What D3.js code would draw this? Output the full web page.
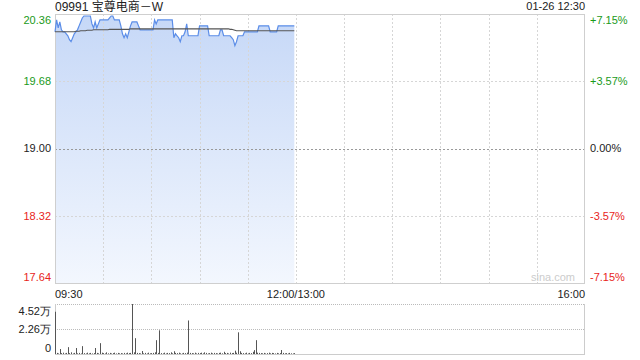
<!DOCTYPE html>
<html><head><meta charset="utf-8">
<script src="https://cdn.jsdelivr.net/npm/d3@7"></script>
<style>body{margin:0;background:#fff;}svg{display:block;font-family:"Liberation Sans",Arial,sans-serif;}</style>
</head><body><svg id="c" width="640" height="360"></svg>
<script>
const title = "09991 宝尊电商－W";
const stamp = "01-26 12:30";
const prevClose = 19.00;
const priceTicks = [20.36, 19.68, 19.00, 18.32, 17.64];
const pctTicks = ["+7.15%", "+3.57%", "0.00%", "-3.57%", "-7.15%"];
const timeLabels = ["09:30", "12:00/13:00", "16:00"];
const volTicks = [4.52, 2.26, 0];
const volTickLabels = ["4.52万", "2.26万", "0"];
// minute-by-minute price (09:30 - 11:59)
const price = [
20.18,20.30,20.22,20.28,20.20,20.18,20.18,20.16,20.14,20.10,
20.08,20.12,20.16,20.18,20.20,20.24,20.28,20.32,20.34,20.34,
20.34,20.34,20.34,20.26,20.22,20.28,20.22,20.26,20.30,20.30,
20.30,20.30,20.30,20.30,20.32,20.34,20.34,20.30,20.30,20.30,
20.30,20.24,20.16,20.12,20.16,20.12,20.18,20.24,20.28,20.28,
20.28,20.28,20.24,20.20,20.20,20.20,20.20,20.20,20.20,20.20,
20.20,20.20,20.30,20.26,20.30,20.30,20.30,20.30,20.30,20.30,
20.30,20.30,20.30,20.30,20.12,20.16,20.14,20.12,20.08,20.14,
20.14,20.18,20.26,20.14,20.14,20.14,20.14,20.14,20.14,20.14,
20.24,20.24,20.24,20.24,20.24,20.24,20.14,20.14,20.14,20.14,
20.14,20.14,20.14,20.20,20.20,20.14,20.14,20.14,20.14,20.14,
20.12,20.10,20.04,20.08,20.14,20.14,20.14,20.14,20.18,20.18,
20.18,20.18,20.18,20.18,20.18,20.18,20.18,20.24,20.24,20.24,
20.24,20.24,20.24,20.24,20.18,20.18,20.18,20.18,20.18,20.24,
20.24,20.24,20.24,20.24,20.24,20.24,20.24,20.24,20.24,20.24];
const avg = [
20.18,20.18,20.18,20.18,20.18,20.18,20.18,20.18,20.18,20.18,
20.18,20.18,20.18,20.185,20.185,20.185,20.19,20.19,20.19,20.19,
20.195,20.195,20.195,20.195,20.2,20.2,20.2,20.2,20.2,20.2,
20.2,20.2,20.2,20.2,20.205,20.205,20.205,20.205,20.205,20.205,
20.205,20.205,20.205,20.205,20.205,20.205,20.205,20.21,20.21,20.21,
20.21,20.21,20.21,20.21,20.21,20.21,20.21,20.21,20.21,20.21,
20.21,20.21,20.21,20.21,20.21,20.21,20.21,20.21,20.21,20.21,
20.21,20.21,20.21,20.21,20.21,20.21,20.21,20.21,20.21,20.21,
20.21,20.21,20.21,20.21,20.21,20.21,20.21,20.21,20.21,20.21,
20.21,20.21,20.21,20.21,20.21,20.21,20.21,20.21,20.21,20.21,
20.21,20.21,20.21,20.21,20.21,20.21,20.21,20.21,20.21,20.205,
20.205,20.2,20.195,20.19,20.19,20.19,20.19,20.19,20.19,20.19,
20.19,20.19,20.19,20.19,20.19,20.19,20.19,20.19,20.19,20.19,
20.19,20.19,20.19,20.19,20.19,20.19,20.19,20.19,20.19,20.19,
20.19,20.19,20.19,20.19,20.19,20.19,20.19,20.19,20.19,20.19];
// minute volume, in 万 shares
const volume = [
3.82,0.10,0.05,0.45,0.08,0.12,0.05,0.10,0.62,0.08,
0.15,0.05,0.10,0.54,0.06,0.10,0.05,0.71,0.08,0.05,
0.12,0.06,0.10,0.05,0.08,0.54,0.10,0.06,0.98,0.12,
0.08,0.05,0.15,0.06,0.10,0.05,0.08,0.12,0.05,0.10,
0.06,0.08,0.05,0.10,0.06,0.12,0.08,0.10,4.52,0.15,
1.43,0.10,0.08,0.05,0.27,0.06,0.10,0.05,0.12,0.06,
0.08,0.10,0.15,1.25,0.10,2.14,0.08,0.06,0.12,0.05,
0.10,0.08,0.15,0.06,0.25,0.10,0.08,0.12,0.06,0.05,
0.10,0.08,0.12,3.03,0.10,0.08,0.06,0.12,0.05,0.10,
0.08,0.12,0.06,0.15,0.10,0.05,0.08,0.12,0.06,0.10,
0.08,0.05,0.10,0.12,0.06,0.20,0.08,0.10,0.05,0.12,
0.08,0.10,0.30,0.12,1.96,0.25,0.10,0.08,0.06,0.12,
0.05,0.10,0.08,0.20,0.35,1.25,0.12,0.10,0.08,0.06,
0.10,0.05,0.08,0.12,0.06,0.10,0.08,0.05,0.10,0.06,
0.08,0.36,0.10,0.06,0.08,0.05,0.10,0.06,0.05,0.08];

const svg = d3.select("#c");
const L = 55, R = 585, T = 14, B = 283;
const VT = 304, VB = 354;
const x = d3.scaleLinear().domain([0, 330]).range([L, R]);
const y = d3.scaleLinear().domain([priceTicks[4], priceTicks[0]]).range([B, T]);
const yv = d3.scaleLinear().domain([0, volTicks[0]]).range([VB, VT]);
const green = "#1a9a1a", red = "#e8251b";
const colOf = i => i < 2 ? green : (i === 2 ? "#222" : red);

const defs = svg.append("defs");
const g = defs.append("linearGradient").attr("id","fillg").attr("x1",0).attr("y1",0).attr("x2",0).attr("y2",1);
g.append("stop").attr("offset","0%").attr("stop-color","#c6d8f7");
g.append("stop").attr("offset","100%").attr("stop-color","#f3f7fe");

// area
const area = d3.area().x((d,i)=>x(i)).y0(B).y1(d=>y(d));
svg.append("path").datum(price).attr("d", area).attr("fill","url(#fillg)");

// grid
const vgrid = d3.range(1, 11);
svg.append("g").selectAll("line").data(vgrid).join("line")
  .attr("x1", d=>Math.round(x(d*30))+0.5).attr("x2", d=>Math.round(x(d*30))+0.5)
  .attr("y1", T).attr("y2", B)
  .attr("stroke","#d6d6d6").attr("stroke-dasharray","2,2");
svg.append("g").selectAll("line").data(priceTicks.slice(1,4)).join("line")
  .attr("x1", L).attr("x2", R)
  .attr("y1", d=>Math.round(y(d))+0.5).attr("y2", d=>Math.round(y(d))+0.5)
  .attr("stroke", d=> d===prevClose ? "#999" : "#d6d6d6").attr("stroke-dasharray","2,2");
svg.append("rect").attr("x", L+0.5).attr("y", T+0.5).attr("width", R-L-1).attr("height", B-T)
  .attr("fill","none").attr("stroke","#cfcfcf");

const line = d3.line().x((d,i)=>x(i)).y(d=>y(d));
svg.append("path").datum(price).attr("d", line).attr("fill","none").attr("stroke","#5b8de8").attr("stroke-width",1.2);
svg.append("path").datum(avg).attr("d", line).attr("fill","none").attr("stroke","#555").attr("stroke-width",1.1);

// labels
const fs = 11;
const lab = svg.append("g").attr("font-size", fs);
const yLabPos = (v,i)=> i===0 ? y(v)+6 : (i===4 ? y(v)-6 : y(v));
lab.selectAll("text.l").data(priceTicks).join("text").attr("class","l")
  .attr("x", L-4).attr("y", (d,i)=>yLabPos(d,i)).attr("dy","0.35em").attr("text-anchor","end")
  .attr("fill",(d,i)=>colOf(i)).text(d=>d.toFixed(2));
lab.selectAll("text.r").data(pctTicks).join("text").attr("class","r")
  .attr("x", R+5).attr("y", (d,i)=>yLabPos(priceTicks[i],i)).attr("dy","0.35em").attr("text-anchor","start")
  .attr("fill",(d,i)=>colOf(i)).text(d=>d);
svg.append("text").attr("x", L).attr("y", 11).attr("font-size",12).attr("fill","#222")
  .attr("font-family","'Liberation Sans','Noto Sans CJK SC',sans-serif").text(title);
svg.append("text").attr("x", R).attr("y", 10).attr("font-size",11).attr("fill","#222").attr("text-anchor","end").text(stamp);
svg.append("text").attr("x", R-10).attr("y", 281).attr("font-size",11).attr("fill","#ccc").attr("text-anchor","end").text("sina.com");
const tpos = [0, 150, 330], tanch = ["start","middle","end"];
svg.append("g").selectAll("text").data(timeLabels).join("text")
  .attr("x",(d,i)=>x(tpos[i])).attr("y",298).attr("text-anchor",(d,i)=>tanch[i])
  .attr("font-size",fs).attr("fill","#222").text(d=>d);

// volume panel
svg.append("line").attr("x1",L).attr("x2",R).attr("y1",VT+0.5).attr("y2",VT+0.5).attr("stroke","#bbb").attr("stroke-dasharray","1,1");
svg.append("line").attr("x1",L).attr("x2",R).attr("y1",Math.round(yv(volTicks[1]))+0.5).attr("y2",Math.round(yv(volTicks[1]))+0.5).attr("stroke","#bbb").attr("stroke-dasharray","1,1");
svg.append("line").attr("x1",L).attr("x2",R).attr("y1",VB+0.5).attr("y2",VB+0.5).attr("stroke","#ccc");
svg.append("line").attr("x1",L+0.5).attr("x2",L+0.5).attr("y1",VT).attr("y2",VB).attr("stroke","#ccc");
svg.append("line").attr("x1",R-0.5).attr("x2",R-0.5).attr("y1",VT).attr("y2",VB).attr("stroke","#ccc");
svg.append("g").selectAll("line").data(volume).join("line")
  .attr("x1",(d,i)=>Math.round(x(i))+0.5).attr("x2",(d,i)=>Math.round(x(i))+0.5)
  .attr("y1",VB).attr("y2",d=>yv(d)).attr("stroke","#555").attr("stroke-width",1);
const vpos = [VT+7, yv(volTicks[1]), VB-6];
svg.append("g").selectAll("text").data(volTickLabels).join("text")
  .attr("x",L-4).attr("y",(d,i)=>vpos[i]).attr("dy","0.35em").attr("text-anchor","end")
  .attr("font-size",fs).attr("fill","#222").text(d=>d);
</script></body></html>
